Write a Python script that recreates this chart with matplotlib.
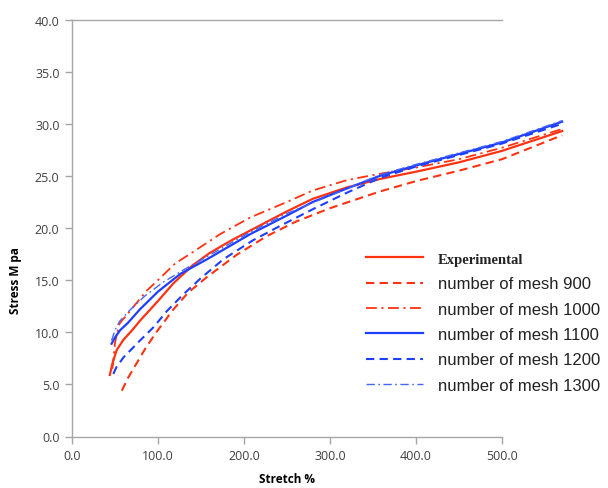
import matplotlib
matplotlib.use("Agg")
import matplotlib.pyplot as plt

# Stress-stretch curves: experiment vs. FE models with different mesh counts
exp_x = [44, 47, 52, 60, 70, 79, 100, 118, 140, 160, 185, 207, 250, 280, 320, 358, 400, 450, 500, 570]
exp_y = [5.9, 7.0, 8.3, 9.3, 10.2, 11.1, 13.0, 14.7, 16.4, 17.6, 18.8, 19.75, 21.6, 22.8, 23.9, 24.7, 25.4, 26.3, 27.4, 29.3]

m900_x = [58, 65, 75, 85, 98, 118, 135, 157, 191, 226, 260, 300, 358, 400, 450, 500, 570]
m900_y = [4.4, 5.6, 7.0, 8.4, 10.0, 12.2, 13.8, 15.3, 17.4, 19.2, 20.6, 21.9, 23.5, 24.5, 25.5, 26.6, 28.9]

m1000_x = [47, 50, 55, 65, 87, 100, 120, 137, 172, 207, 250, 280, 320, 358, 400, 450, 500, 570]
m1000_y = [6.5, 9.0, 10.8, 11.8, 14.0, 15.0, 16.6, 17.5, 19.4, 21.0, 22.5, 23.6, 24.6, 25.2, 25.8, 26.6, 27.7, 29.5]

m1100_x = [46, 50, 56, 65, 79, 100, 126, 157, 207, 250, 280, 320, 358, 400, 450, 500, 570]
m1100_y = [8.9, 9.5, 10.2, 10.9, 12.2, 13.9, 15.6, 17.0, 19.4, 21.2, 22.5, 23.8, 25.0, 26.0, 27.1, 28.2, 30.2]

m1200_x = [48, 52, 60, 79, 95, 110, 129, 150, 176, 210, 242, 280, 320, 358, 400, 450, 500, 570]
m1200_y = [6.0, 6.7, 7.6, 9.2, 10.5, 12.0, 13.6, 15.2, 17.0, 18.8, 20.2, 21.8, 23.4, 24.8, 25.9, 27.0, 28.1, 30.0]

m1300_x = [46, 50, 55, 58, 67, 85, 106, 130, 160, 207, 250, 300, 358, 400, 450, 500, 570]
m1300_y = [9.2, 10.2, 11.0, 11.3, 12.1, 13.5, 14.8, 16.0, 17.4, 19.6, 21.4, 23.1, 25.1, 26.1, 27.2, 28.3, 30.3]

x_ticks = [0, 100, 200, 300, 400, 500]
y_ticks = [0, 5, 10, 15, 20, 25, 30, 35, 40]

RED = "#ff3311"
BLUE = "#1f3fff"
AXIS_GRAY = "#a6a6a6"
TEXT_GRAY = "#404040"

fig = plt.figure(figsize=(6.08, 4.89), dpi=100)
ax = fig.add_axes([72 / 608, 51.5 / 489, 430 / 608, 417 / 489])

series = [
    (exp_x, exp_y, "Experimental", dict(color=RED, lw=1.6, ls="-")),
    (m900_x, m900_y, "number of mesh 900", dict(color=RED, lw=1.5, ls=(0, (4, 2.5)))),
    (m1000_x, m1000_y, "number of mesh 1000", dict(color=RED, lw=1.3, ls=(0, (6, 2.5, 1.2, 2.5)))),
    (m1100_x, m1100_y, "number of mesh 1100", dict(color=BLUE, lw=1.6, ls="-")),
    (m1200_x, m1200_y, "number of mesh 1200", dict(color=BLUE, lw=1.5, ls=(0, (4, 2.5)))),
    (m1300_x, m1300_y, "number of mesh 1300", dict(color="#4466ff", lw=1.0, ls=(0, (6, 2.5, 1.2, 2.5)))),
]

handles = []
for xs, ys, label, style in series:
    (ln,) = ax.plot(xs, ys, label=label, clip_on=False, **style)
    handles.append(ln)

ax.set_xlim(0, 500)
ax.set_ylim(0, 40)
ax.set_xticks(x_ticks)
ax.set_yticks(y_ticks)
ax.set_xticklabels([f"{v:.1f}" for v in x_ticks])
ax.set_yticklabels([f"{v:.1f}" for v in y_ticks])

for side in ("left", "bottom", "top"):
    ax.spines[side].set_color(AXIS_GRAY)
    ax.spines[side].set_linewidth(1.0)
ax.spines["right"].set_visible(False)

ax.tick_params(axis="both", direction="out", length=5, width=1.0, color=AXIS_GRAY,
               labelsize=9, labelcolor=TEXT_GRAY, pad=4)
for lab in ax.get_xticklabels() + ax.get_yticklabels():
    lab.set_fontfamily("Open Sans")

fig.text(287 / 608, 1 - 480 / 489, "Stretch %", ha="center", va="center",
         fontsize=8.5, fontweight="bold", family="Open Sans", color="black")
fig.text(16 / 608, 1 - 281 / 489, "Stress M pa", ha="center", va="center", rotation=90,
         fontsize=8.5, fontweight="bold", family="Open Sans", color="black")

leg = ax.legend(handles=handles, loc="upper left", bbox_to_anchor=(358 / 608, 1 - 244 / 489),
                bbox_transform=fig.transFigure, frameon=False, fontsize=12,
                handlelength=3.4, handletextpad=0.9, labelspacing=0.62, borderpad=0)
for i, t in enumerate(leg.get_texts()):
    if i == 0:
        t.set_fontfamily("Liberation Serif")
        t.set_fontsize(10.5)
        t.set_fontweight("bold")
    else:
        t.set_fontfamily("Liberation Sans")
    t.set_color("#222222")

fig.savefig("out.png", dpi=100)
